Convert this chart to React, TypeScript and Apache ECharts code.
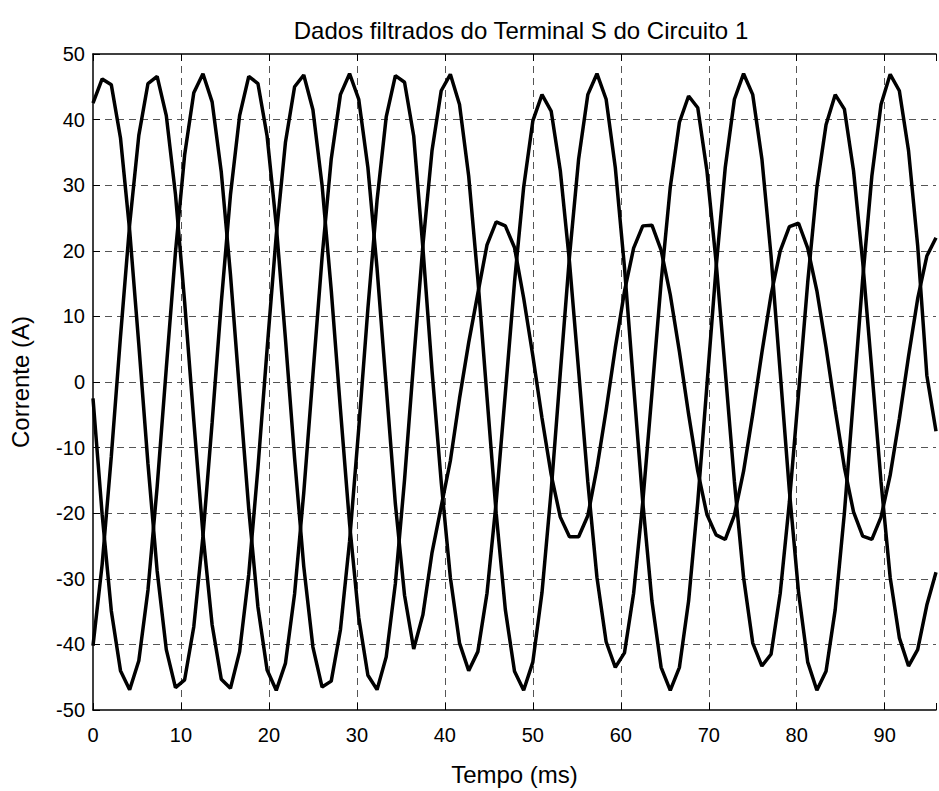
import React, { useEffect, useRef } from "react";
import * as echarts from "echarts";

// Sampling: 16 samples per 60 Hz cycle (960 Hz) -> sample period in ms
const SAMPLE_MS = 1000 / 960;

const TITLE = "Dados filtrados do Terminal S do Circuito 1";
const X_NAME = "Tempo (ms)";
const Y_NAME = "Corrente (A)";

// Phase currents (A), one value per sample
const phaseA = [
  42.5, 46.2, 45.3, 37.2, 23.1, 5.7, -12.5, -28.8, -40.8, -46.6,
  -45.4, -37.3, -23.5, -6.2, 12.1, 28.5, 40.6, 46.6, 45.5, 37.5,
  23.9, 6.6, -11.6, -28.1, -40.4, -46.5, -45.6, -37.8, -24.3, -7.1,
  11.2, 27.7, 40.4, 46.7, 45.7, 37.5, 20.5, 1.7, -15.2, -29.8,
  -39.8, -44.0, -41.1, -32.2, -18.3, -1.7, 15.2, 29.7, 39.8, 43.8,
  41.3, 32.2, 18.3, 1.7, -15.2, -29.8, -39.6, -43.5, -41.3, -32.2,
  -18.3, -1.7, 15.2, 29.7, 39.6, 43.6, 41.8, 32.2, 18.3, 1.7,
  -15.2, -29.8, -39.8, -43.3, -41.5, -32.2, -18.3, -1.7, 15.2, 29.7,
  39.2, 43.8, 41.6, 32.2, 18.3, 1.7, -15.2, -29.8, -39.0, -43.3,
  -40.8, -34.0, -29.0,
];

const phaseB = [
  -40.2, -27.8, -11.3, 6.9, 24.0, 37.6, 45.5, 46.6, 40.6, 28.6,
  12.2, -5.9, -23.2, -37.0, -45.3, -46.7, -41.1, -29.3, -13.1, 5.0,
  22.4, 36.5, 45.0, 46.8, 41.5, 30.0, 14.0, -4.1, -21.6, -35.9,
  -44.7, -46.9, -41.9, -30.7, -14.9, 3.2, 20.8, 35.3, 44.4, 46.9,
  42.3, 31.4, 15.7, -2.3, -20.0, -34.7, -44.1, -47.0, -42.7, -32.1,
  -16.6, 1.4, 19.1, 34.0, 43.8, 47.0, 43.1, 32.7, 17.5, -0.5,
  -18.3, -33.4, -43.5, -47.0, -43.5, -33.4, -18.3, -0.5, 17.4, 32.7,
  43.1, 47.0, 43.8, 34.0, 19.2, 1.4, -16.6, -32.1, -42.7, -47.0,
  -44.1, -34.7, -20.0, -2.3, 15.7, 31.4, 42.3, 46.9, 44.4, 35.3,
  20.8, 1.0, -7.5,
];

const phaseC = [
  -2.5, -20.2, -34.9, -44.0, -46.9, -42.5, -31.7, -16.0, 2.1, 19.8,
  34.6, 44.1, 47.0, 42.7, 32.0, 16.4, -1.6, -19.4, -34.3, -43.9,
  -47.0, -42.9, -32.3, -16.9, 1.1, 19.0, 34.0, 43.8, 47.0, 43.1,
  32.7, 17.3, -0.7, -18.6, -32.5, -40.7, -35.5, -26.0, -19.0, -12.0,
  -2.5, 6.0, 13.5, 20.9, 24.4, 23.8, 20.5, 12.8, 4.0, -5.5,
  -14.1, -20.6, -23.6, -23.6, -20.4, -13.1, -4.3, 5.2, 13.8, 20.4,
  23.8, 23.9, 20.1, 13.3, 4.6, -4.9, -13.6, -20.2, -23.3, -24.0,
  -20.3, -13.6, -4.9, 4.5, 13.3, 20.0, 23.7, 24.2, 20.4, 13.9,
  5.3, -4.2, -13.0, -19.8, -23.5, -24.0, -20.6, -14.2, -5.6, 3.9,
  12.7, 19.2, 22.0,
];

const X_TICKS = [0, 10, 20, 30, 40, 50, 60, 70, 80, 90];
const Y_MIN = -50;
const Y_MAX = 50;

const FONT = "'Liberation Sans', Arial, Helvetica, sans-serif";

function toPairs(values: number[]) {
  return values.map((v, i) => [i * SAMPLE_MS, v]);
}

export default function App() {
  const ref = useRef<HTMLDivElement>(null);

  useEffect(() => {
    if (!ref.current) return;
    const chart = echarts.init(ref.current, undefined, { renderer: "svg" });
    const xMax = (phaseA.length - 1) * SAMPLE_MS;
    const gridLine = {
      show: true,
      showMaxLine: false,
      showMinLine: false,
      lineStyle: { color: "#555", width: 1, type: [7, 5] as any },
    };
    const lineSeries = (name: string, values: number[]) => ({
      name,
      type: "line",
      data: toPairs(values),
      symbol: "none",
      smooth: false,
      clip: true,
      lineStyle: { color: "#000", width: 3.5 },
      itemStyle: { color: "#000" },
    });
    chart.setOption({
      animation: false,
      backgroundColor: "#fff",
      title: {
        text: TITLE,
        left: 516,
        textAlign: "center",
        top: 13,
        textStyle: { fontFamily: FONT, fontSize: 24, fontWeight: "normal", color: "#000" },
      },
      grid: { left: 93, top: 54, width: 847, height: 668, containLabel: false },
      xAxis: [
        {
          type: "value",
          min: 0,
          max: xMax,
          interval: 10,
          name: X_NAME,
          nameLocation: "middle",
          nameGap: 52,
          nameTextStyle: { fontFamily: FONT, fontSize: 24, color: "#000" },
          axisLine: { show: true, onZero: false, lineStyle: { color: "#000", width: 1.5 } },
          axisTick: { show: true, inside: true, length: 7, lineStyle: { color: "#000" } },
          axisLabel: {
            fontFamily: FONT,
            fontSize: 20,
            color: "#000",
            margin: 15,
            formatter: (v: number) => (X_TICKS.includes(Math.round(v * 1000) / 1000) ? String(v) : ""),
          },
          splitLine: gridLine,
        },
        {
          type: "value",
          position: "top",
          min: 0,
          max: xMax,
          interval: 10,
          axisLine: { show: true, onZero: false, lineStyle: { color: "#000", width: 1.5 } },
          axisTick: { show: true, inside: true, length: 7, lineStyle: { color: "#000" } },
          axisLabel: { show: false },
          splitLine: { show: false },
        },
      ],
      yAxis: {
        type: "value",
        min: Y_MIN,
        max: Y_MAX,
        interval: 10,
        name: Y_NAME,
        nameLocation: "middle",
        nameGap: 61,
        nameRotate: 90,
        nameTextStyle: { fontFamily: FONT, fontSize: 24, color: "#000" },
        axisLine: { show: true, onZero: false, lineStyle: { color: "#000", width: 1.5 } },
        axisTick: { show: true, inside: true, length: 7, lineStyle: { color: "#000" } },
        axisLabel: { fontFamily: FONT, fontSize: 20, color: "#000", margin: 8 },
        splitLine: gridLine,
      },
      series: [lineSeries("Fase A", phaseA), lineSeries("Fase B", phaseB), lineSeries("Fase C", phaseC)],
    });
    return () => chart.dispose();
  }, []);

  return (
    <div
      ref={ref}
      style={{ position: "absolute", left: 0, top: 0, width: 939, height: 791, background: "#fff" }}
    />
  );
}
